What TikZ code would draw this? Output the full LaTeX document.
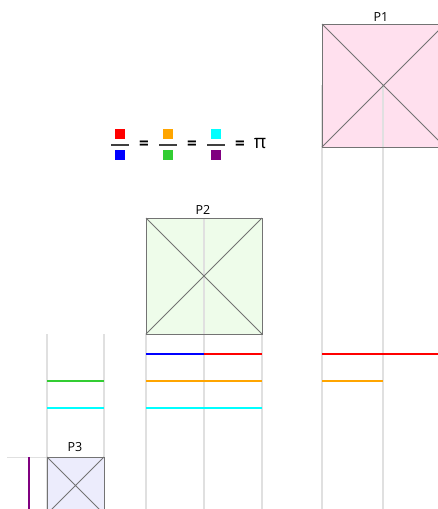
\documentclass[tikz,border=0pt]{standalone}
\usepackage{fontspec}
\setmainfont{Open Sans}
\begin{document}
\begin{tikzpicture}[x=1pt,y=-1pt,
  guide/.style={draw=black!12,line width=1.2pt},
  sq/.style={draw=black!55,line width=0.9pt},
  diag/.style={draw=black!55,line width=0.8pt},
  seg/.style={line width=2.6pt},
  lbl/.style={font=\fontsize{12.5}{14}\selectfont,inner sep=0pt},
  eq/.style={font=\fontsize{17}{18}\selectfont\bfseries,inner sep=0pt},
  chip/.style={minimum size=10.5pt,inner sep=0pt}]
\useasboundingbox (0,0) rectangle (438,509);
\definecolor{pinkf}{RGB}{255,224,238}
\definecolor{greenf}{RGB}{238,252,234}
\definecolor{bluef}{RGB}{236,236,252}
\definecolor{lgreen}{RGB}{50,205,50}
\definecolor{purp}{RGB}{128,0,128}
\definecolor{orng}{RGB}{255,165,0}
\definecolor{cyn}{RGB}{0,255,255}
\definecolor{rd}{RGB}{255,0,0}
\definecolor{bl}{RGB}{0,0,255}
% guide lines
\draw[guide] (47,334) -- (47,509);
\draw[guide] (104,334) -- (104,509);
\draw[guide] (146,334) -- (146,509);
\draw[guide] (204,218) -- (204,509);
\draw[guide] (262,334) -- (262,509);
\draw[guide] (322,85) -- (322,509);
\draw[guide] (383,85) -- (383,509);
\draw[guide,line width=0.8pt] (7,457) -- (47,457);
% squares
\fill[pinkf] (322,24) rectangle (445,147);
\draw[guide] (383,85) -- (383,147);
\draw[sq] (322,24) rectangle (445,147);
\draw[diag] (322,24) -- (445,147) (322,147) -- (445,24);
\node[lbl] (p1) at (381,17) {P1};
\fill[greenf] (146,218) rectangle (262,334);
\draw[guide] (204,218) -- (204,334);
\draw[sq] (146,218) rectangle (262,334);
\draw[diag] (146,218) -- (262,334) (146,334) -- (262,218);
\node[lbl] (p2) at (203,210) {P2};
\fill[bluef] (47,457) rectangle (104,514);
\draw[sq] (47,457) rectangle (104,514);
\draw[diag] (47,457) -- (104,514) (47,514) -- (104,457);
\node[lbl] (p3) at (75,447) {P3};
% colored segments
\draw[seg,bl] (146,354) -- (204,354);
\draw[seg,rd] (204,354) -- (262,354);
\draw[seg,rd] (322,354) -- (445,354);
\draw[seg,lgreen] (47,381) -- (104,381);
\draw[seg,orng] (146,381) -- (262,381);
\draw[seg,orng] (322,381) -- (383,381);
\draw[seg,cyn] (47,408) -- (104,408);
\draw[seg,cyn] (146,408) -- (262,408);
\draw[seg,purp] (29,457) -- (29,509);
% equation
\node[chip,fill=rd] (n1) at (120,134) {};
\node[chip,fill=bl] (d1) at (120,155) {};
\draw[line width=1.3pt,black!75] (111,145) -- (129,145);
\node[eq] (e1) at (144,145) {=};
\node[chip,fill=orng] (n2) at (168,134) {};
\node[chip,fill=lgreen] (d2) at (168,155) {};
\draw[line width=1.3pt,black!75] (159,145) -- (177,145);
\node[eq] (e2) at (192,145) {=};
\node[chip,fill=cyn] (n3) at (216,134) {};
\node[chip,fill=purp] (d3) at (216,155) {};
\draw[line width=1.3pt,black!75] (207,145) -- (225,145);
\node[eq] (e3) at (240,145) {=};
\node[inner sep=0pt,font=\fontsize{19}{20}\selectfont] (pi) at (260,144) {π};
\end{tikzpicture}
\end{document}
